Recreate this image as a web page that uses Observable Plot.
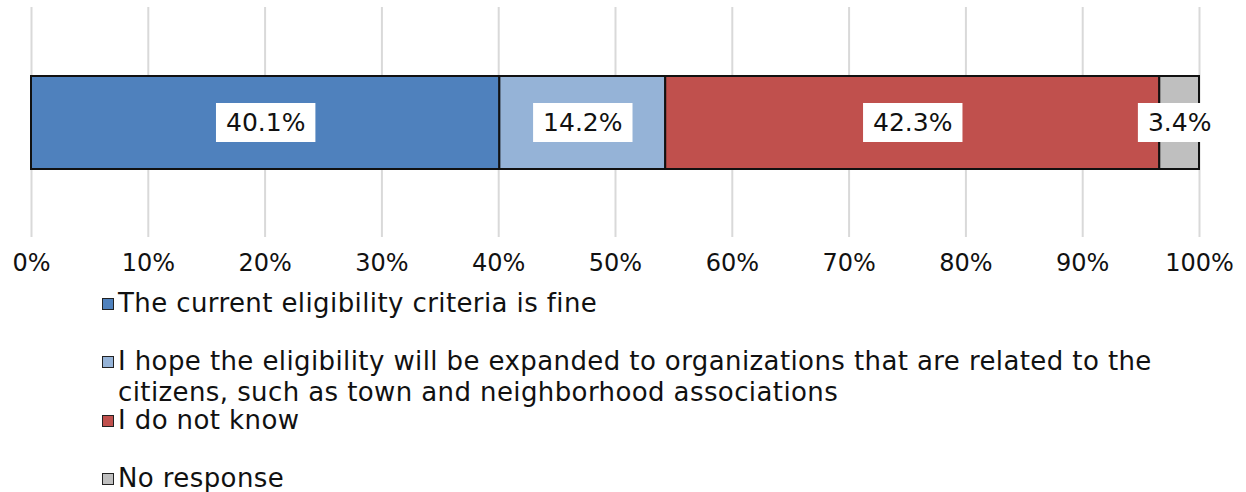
<!DOCTYPE html>
<html>
<head>
<meta charset="utf-8">
<script src="https://cdn.jsdelivr.net/npm/d3@7"></script>
<script src="https://cdn.jsdelivr.net/npm/@observablehq/plot@0.6"></script>
<style>
  html, body { margin: 0; padding: 0; background: #fff; }
  #wrap { position: relative; width: 1246px; height: 492px; overflow: hidden; font-family: "DejaVu Sans", sans-serif; }
  #chart svg { display: block; }
  .leg { position: absolute; left: 102px; width: 1140px; font-size: 26px; letter-spacing: 0.4px; line-height: 31px; color: #111; }
  .leg .sw { position: absolute; left: 0; top: 10px; width: 10px; height: 10px; border: 1px solid #222; }
  .leg .tx { margin-left: 16px; width: 1045px; }
</style>
</head>
<body>
<div id="wrap"><div id="chart"></div></div>
<script>
const categories = [
  "The current eligibility criteria is fine",
  "I hope the eligibility will be expanded to organizations that are related to the citizens, such as town and neighborhood associations",
  "I do not know",
  "No response"
];
const values = [40.1, 14.2, 42.3, 3.4];
const colors = ["#4F81BD", "#95B3D7", "#C0504D", "#BFBFBF"];
const xTicks = [0, 10, 20, 30, 40, 50, 60, 70, 80, 90, 100];
const legendTops = [288, 346, 405, 463];

const data = categories.map((c, i) => ({cat: c, value: values[i], row: "all"}));
const fmt = v => v.toFixed(1) + "%";
const labelSet = new Set(values.map(fmt));

const chart = Plot.plot({
  width: 1246,
  height: 285,
  marginLeft: 31,
  marginRight: 47,
  marginTop: 7,
  marginBottom: 48,
  style: {fontFamily: "'DejaVu Sans', sans-serif", color: "#111", background: "#fff"},
  x: {domain: [0, 100], label: null},
  y: {axis: null, padding: 0.424},
  color: {domain: categories, range: colors},
  marks: [
    Plot.gridX(xTicks, {stroke: "#d9d9d9", strokeOpacity: 1, strokeWidth: 2}),
    Plot.barX(data, Plot.stackX({x: "value", y: "row", fill: "cat", stroke: "#111", strokeWidth: 2, order: null})),
    Plot.text(data, Plot.stackX({x: "value", y: "row", text: d => fmt(d.value), fontSize: 25, fill: "#111", order: null})),
    Plot.axisX(xTicks, {tickSize: 0, tickPadding: 16, fontSize: 24, tickFormat: d => d + "%", fill: "#111"})
  ]
});
document.getElementById("chart").appendChild(chart);

// white boxes behind value labels
const svgNS = "http://www.w3.org/2000/svg";
Array.from(chart.querySelectorAll("text"))
  .filter(t => labelSet.has(t.textContent.trim()))
  .forEach(t => {
    const bb = t.getBBox();
    const cy = bb.y + bb.height / 2;
    const r = document.createElementNS(svgNS, "rect");
    r.setAttribute("x", bb.x - 10);
    r.setAttribute("y", cy - 19.5);
    r.setAttribute("width", bb.width + 20);
    r.setAttribute("height", 39);
    r.setAttribute("fill", "#ffffff");
    r.setAttribute("stroke", "none");
    if (t.getAttribute("transform")) r.setAttribute("transform", t.getAttribute("transform"));
    t.parentNode.insertBefore(r, t);
  });

// legend
const wrap = document.getElementById("wrap");
categories.forEach((c, i) => {
  const d = document.createElement("div");
  d.className = "leg";
  d.style.top = legendTops[i] + "px";
  const sw = document.createElement("span");
  sw.className = "sw";
  sw.style.background = colors[i];
  const tx = document.createElement("div");
  tx.className = "tx";
  tx.textContent = c;
  d.appendChild(sw);
  d.appendChild(tx);
  wrap.appendChild(d);
});
</script>
</body>
</html>
